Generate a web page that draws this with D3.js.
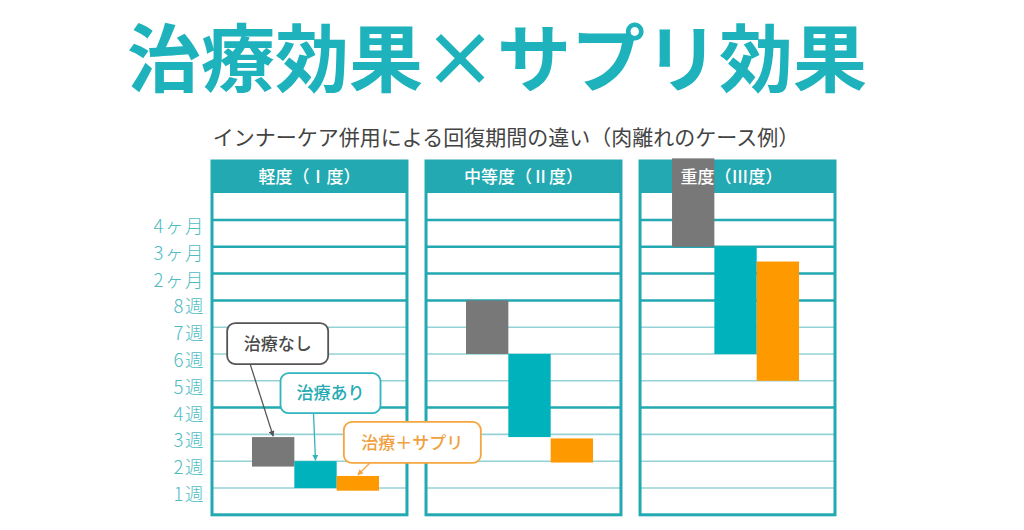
<!DOCTYPE html>
<html>
<head>
<meta charset="utf-8">
<script src="https://cdn.jsdelivr.net/npm/d3@7"></script>
<style>
  body { margin: 0; background: #fff; }
  svg { display: block; font-family: "Noto Sans CJK JP", "Noto Sans", sans-serif; }
</style>
</head>
<body>
<div id="chart"></div>
<script>
// tick labels, bottom to top (level 1 = 1週)
var levelLabels = ["1週", "2週", "3週", "4週", "5週", "6週", "7週", "8週", "2ヶ月", "3ヶ月", "4ヶ月"];
var thickLevels = ["4週", "8週", "2ヶ月", "3ヶ月", "4ヶ月"];

var panels = ["軽度（Ⅰ度）", "中等度（Ⅱ度）", "重度（Ⅲ度）"];
var groups = ["治療なし", "治療あり", "治療＋サプリ"];

// recovery span per panel, [from, to] in level units
var noTreatment = [[1.8, 2.9], [6, 8], [10, 13.3]];
var treatment = [[1, 2], [2.9, 6], [6, 10]];
var withSupp = [[0.9, 1.45], [1.95, 2.85], [5, 9.45]];

var titleText = "治療効果×サプリ効果";
var subtitleText = "インナーケア併用による回復期間の違い（肉離れのケース例）";

var svgWidth = 1024;
var svgHeight = 530;

var colors = { "治療なし": "#787878", "治療あり": "#00b2bb", "治療＋サプリ": "#ff9900" };
var boxStroke = { "治療なし": "#555555", "治療あり": "#2fb5bd", "治療＋サプリ": "#f6a640" };
var boxText = { "治療なし": "#4a4a4a", "治療あり": "#25aab3", "治療＋サプリ": "#f0a040" };
var teal = "#22a9b1";
var thinLine = "#95d2d6";

var svg = d3.select("#chart")
  .append("svg")
  .attr("width", svgWidth)
  .attr("height", svgHeight);

// title
svg.append("text")
  .attr("x", 497)
  .attr("y", 86)
  .attr("text-anchor", "middle")
  .attr("font-size", "74px")
  .attr("font-weight", 700)
  .attr("fill", "#1eb3bc")
  .text(titleText);

svg.append("text")
  .attr("x", 506)
  .attr("y", 145)
  .attr("text-anchor", "middle")
  .attr("font-size", "21px")
  .attr("font-weight", 400)
  .attr("fill", "#444")
  .text(subtitleText);

// scales
var panelTop = 161, headerH = 32;
var y = d3.scaleLinear().domain([0, 12]).range([514.8, 193.2]);
var x = d3.scaleBand().domain(panels).range([212, 835]).paddingInner(0.089).paddingOuter(0);
var xBar = d3.scaleBand().domain(groups).range([40, 167]);
var barShift = [0, 0, -8];

var levelIdx = levelLabels.map(function(d, i) { return i + 1; });

// y axis labels
var yAxis = d3.axisLeft(y)
  .tickValues(levelIdx)
  .tickFormat(function(d) { return levelLabels[d - 1]; })
  .tickSize(0)
  .tickPadding(7);

var axisG = svg.append("g")
  .attr("transform", "translate(" + x(panels[0]) + ",0)")
  .call(yAxis);
axisG.select(".domain").remove();
axisG.selectAll("text")
  .attr("dy", "0.68em")
  .attr("font-size", "18.5px")
  .attr("font-weight", 300)
  .attr("letter-spacing", "1.5px")
  .attr("font-family", "'Noto Sans CJK JP', sans-serif")
  .attr("fill", "#4fbcc3");

var data = [];
panels.forEach(function(p, i) {
  data.push({ panel: p, pi: i, group: groups[0], span: noTreatment[i] });
  data.push({ panel: p, pi: i, group: groups[1], span: treatment[i] });
  data.push({ panel: p, pi: i, group: groups[2], span: withSupp[i] });
});

var panelG = svg.selectAll(".panel")
  .data(panels)
  .enter()
  .append("g")
  .attr("class", "panel")
  .attr("transform", function(d) { return "translate(" + x(d) + ",0)"; });

// grid lines
panelG.each(function(p) {
  var g = d3.select(this);
  g.selectAll(".grid")
    .data(levelIdx)
    .enter()
    .append("line")
    .attr("x1", 0)
    .attr("x2", x.bandwidth())
    .attr("y1", function(d) { return y(d); })
    .attr("y2", function(d) { return y(d); })
    .attr("stroke", function(d) { return thickLevels.indexOf(levelLabels[d - 1]) >= 0 ? teal : thinLine; })
    .attr("stroke-width", function(d) { return thickLevels.indexOf(levelLabels[d - 1]) >= 0 ? 2.5 : 1.6; });
});

// header band + frame
panelG.append("rect")
  .attr("x", 0)
  .attr("y", panelTop)
  .attr("width", x.bandwidth())
  .attr("height", headerH)
  .attr("fill", teal);

panelG.append("rect")
  .attr("x", 0)
  .attr("y", panelTop)
  .attr("width", x.bandwidth())
  .attr("height", y(0) - panelTop)
  .attr("fill", "none")
  .attr("stroke", teal)
  .attr("stroke-width", 3);

// bars
svg.append("g").selectAll("rect")
  .data(data)
  .enter()
  .append("rect")
  .attr("x", function(d) { return x(d.panel) + xBar(d.group) + barShift[d.pi]; })
  .attr("width", xBar.bandwidth())
  .attr("y", function(d) { return y(d.span[1]); })
  .attr("height", function(d) { return y(d.span[0]) - y(d.span[1]); })
  .attr("fill", function(d) { return colors[d.group]; });

// header labels, drawn after the bars so they sit on top
svg.append("g").selectAll("text")
  .data(panels)
  .enter()
  .append("text")
  .attr("x", function(d, i) { return x(d) + x.bandwidth() / 2 + (i === 2 ? -6 : 0); })
  .attr("y", panelTop + headerH / 2)
  .attr("dy", "0.36em")
  .attr("text-anchor", "middle")
  .attr("font-size", "17px")
  .attr("font-weight", 500)
  .attr("fill", "#fff")
  .text(function(d) { return d; });

// callouts, pointing to the bars in the first panel
var defs = svg.append("defs");
groups.forEach(function(g, i) {
  defs.append("marker")
    .attr("id", "arrow" + i)
    .attr("viewBox", "0 0 10 10")
    .attr("refX", 9).attr("refY", 5)
    .attr("markerWidth", 4.5).attr("markerHeight", 4.5)
    .attr("markerUnits", "strokeWidth")
    .attr("orient", "auto")
    .append("path")
    .attr("d", "M0,0 L10,5 L0,10 z")
    .attr("fill", boxStroke[g]);
});

var callLayout = [
  { dx: -46, dy: -113, w: 101, h: 41, sx: -23 },
  { dx: -35, dy: -87, w: 100, h: 40, sx: -2 },
  { dx: -14, dy: -53, w: 137, h: 41, sx: 12 }
];

var callData = data.filter(function(d) { return d.pi === 0; });

var callG = svg.append("g").selectAll("g")
  .data(callData)
  .enter()
  .append("g");

callG.each(function(d, i) {
  var g = d3.select(this);
  var L = callLayout[i];
  var tipX = x(d.panel) + xBar(d.group) + xBar.bandwidth() / 2;
  var tipY = y(d.span[1]) - 1;
  var bx = tipX + L.dx, by = tipY + L.dy;

  g.append("line")
    .attr("x1", tipX + L.sx)
    .attr("y1", by + L.h)
    .attr("x2", tipX)
    .attr("y2", tipY)
    .attr("stroke", boxStroke[d.group])
    .attr("stroke-width", 1.3)
    .attr("marker-end", "url(#arrow" + i + ")");

  g.append("rect")
    .attr("x", bx)
    .attr("y", by)
    .attr("width", L.w)
    .attr("height", L.h)
    .attr("rx", 8)
    .attr("fill", "#fff")
    .attr("stroke", boxStroke[d.group])
    .attr("stroke-width", 1.8);

  g.append("text")
    .attr("x", bx + L.w / 2)
    .attr("y", by + L.h / 2)
    .attr("dy", "0.36em")
    .attr("text-anchor", "middle")
    .attr("font-size", "17px")
    .attr("font-weight", 500)
    .attr("fill", boxText[d.group])
    .text(d.group);
});
</script>
</body>
</html>
